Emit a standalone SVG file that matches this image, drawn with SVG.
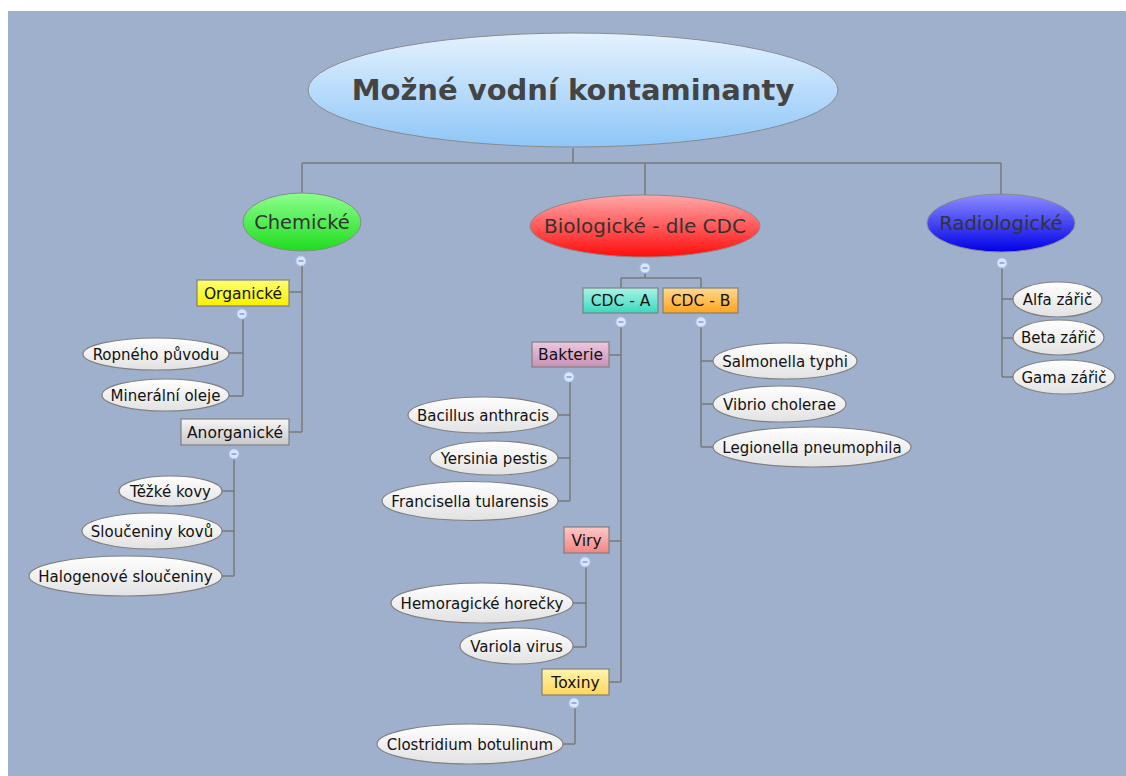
<svg xmlns="http://www.w3.org/2000/svg" width="1126" height="776" viewBox="0 0 1126 776">
<defs>
<linearGradient id="gRoot" x1="0" y1="0" x2="0" y2="1"><stop offset="0" stop-color="#e4f2ff"/><stop offset="1" stop-color="#8ec6f7"/></linearGradient>
<linearGradient id="gChem" x1="0" y1="0" x2="0" y2="1"><stop offset="0" stop-color="#8cff8c"/><stop offset="1" stop-color="#1fdc1f"/></linearGradient>
<linearGradient id="gBio" x1="0" y1="0" x2="0" y2="1"><stop offset="0" stop-color="#ffa8a8"/><stop offset="1" stop-color="#ff0c0c"/></linearGradient>
<linearGradient id="gRad" x1="0" y1="0" x2="0" y2="1"><stop offset="0" stop-color="#8c8cff"/><stop offset="1" stop-color="#0000e8"/></linearGradient>
<linearGradient id="gLeaf" x1="0" y1="0" x2="0" y2="1"><stop offset="0" stop-color="#ffffff"/><stop offset="1" stop-color="#e2e2e2"/></linearGradient>
<linearGradient id="gOrg" x1="0" y1="0" x2="0" y2="1"><stop offset="0" stop-color="#ffff70"/><stop offset="1" stop-color="#f8f000"/></linearGradient>
<linearGradient id="gAnorg" x1="0" y1="0" x2="0" y2="1"><stop offset="0" stop-color="#f6f6f6"/><stop offset="1" stop-color="#c8c8c8"/></linearGradient>
<linearGradient id="gCdcA" x1="0" y1="0" x2="0" y2="1"><stop offset="0" stop-color="#a8f4e6"/><stop offset="1" stop-color="#3ad8bf"/></linearGradient>
<linearGradient id="gCdcB" x1="0" y1="0" x2="0" y2="1"><stop offset="0" stop-color="#ffd890"/><stop offset="1" stop-color="#ffa41c"/></linearGradient>
<linearGradient id="gBak" x1="0" y1="0" x2="0" y2="1"><stop offset="0" stop-color="#ecc8de"/><stop offset="1" stop-color="#c890b8"/></linearGradient>
<linearGradient id="gViry" x1="0" y1="0" x2="0" y2="1"><stop offset="0" stop-color="#ffc8c8"/><stop offset="1" stop-color="#f28484"/></linearGradient>
<linearGradient id="gTox" x1="0" y1="0" x2="0" y2="1"><stop offset="0" stop-color="#fff4b0"/><stop offset="1" stop-color="#ffd65a"/></linearGradient>
</defs>
<style>
text{font-family:"DejaVu Sans","Verdana",sans-serif;text-anchor:middle;fill:#111;}
.leaf ellipse{fill:url(#gLeaf);stroke:#808080;stroke-width:1.2;}
.leaf text{font-size:15px;}
.box rect{stroke:#808080;stroke-width:1.2;}
.box text{font-size:15.5px;}
.main ellipse{stroke:#8a8a8a;stroke-width:1;}
.main text{font-size:19.5px;fill:#333;}
#connectors path{fill:none;stroke:#7a7a7a;stroke-width:1.5;}
.col circle{fill:#dbe6fa;stroke:#a9c3ee;stroke-width:1;}
.col path{stroke:#6d8cc8;stroke-width:1.2;}
</style>
<rect x="0" y="0" width="1126" height="776" fill="#ffffff"/>
<rect x="8" y="11" width="1118" height="765" fill="#9fb0cd"/>

<g id="connectors">
<path d="M573 148V163M302 163H1001M302 163V194M645 163V195M1001 163V194"/>
<path d="M302 266V432M289 292H302M289 432H302"/>
<path d="M243 319V396M229 353H243M229 396H243"/>
<path d="M234 459V576M222 491H234M222 531H234M222 576H234"/>
<path d="M645 273V278M621 278H701M621 278V288M701 278V288"/>
<path d="M621 327V682M609 355H621M609 541H621M609 682H621"/>
<path d="M570 382V501M558 415H570M558 458H570M558 501H570"/>
<path d="M586 567V647M573 603H586M573 647H586"/>
<path d="M575 708V744M563 744H575"/>
<path d="M701 327V447M713 361H701M713 404H701M713 447H701"/>
<path d="M1002 268V377M1002 299H1013M1002 338H1013M1002 377H1013"/>
</g>

<g id="root" class="main">
<ellipse cx="573" cy="90" rx="265" ry="57" fill="url(#gRoot)"/>
<text x="573" y="100" style="font-size:29px;font-weight:bold;fill:#444">Možné vodní kontaminanty</text>
</g>
<g id="chemicke" class="main">
<ellipse cx="302" cy="222" rx="59" ry="29" fill="url(#gChem)"/>
<text x="302" y="229">Chemické</text>
</g>
<g id="biologicke" class="main">
<ellipse cx="645" cy="226" rx="115" ry="31" fill="url(#gBio)"/>
<text x="645" y="233" style="font-size:20px">Biologické - dle CDC</text>
</g>
<g id="radiologicke" class="main">
<ellipse cx="1001" cy="223" rx="74" ry="29" fill="url(#gRad)"/>
<text x="1001" y="230">Radiologické</text>
</g>

<g id="organicke" class="box"><rect x="197" y="280" width="92" height="26" fill="url(#gOrg)"/><text x="243" y="298.5">Organické</text></g>
<g id="anorganicke" class="box"><rect x="181" y="419" width="108" height="26" fill="url(#gAnorg)"/><text x="235" y="437.5">Anorganické</text></g>
<g id="cdc-a" class="box"><rect x="583" y="288" width="75" height="25" fill="url(#gCdcA)"/><text x="620.5" y="306">CDC - A</text></g>
<g id="cdc-b" class="box"><rect x="663" y="288" width="75" height="25" fill="url(#gCdcB)"/><text x="700.5" y="306">CDC - B</text></g>
<g id="bakterie" class="box"><rect x="532" y="342" width="77" height="25" fill="url(#gBak)"/><text x="570.5" y="360">Bakterie</text></g>
<g id="viry" class="box"><rect x="564" y="527" width="45" height="26" fill="url(#gViry)"/><text x="586.5" y="545.5">Viry</text></g>
<g id="toxiny" class="box"><rect x="542" y="669" width="67" height="26" fill="url(#gTox)"/><text x="575.5" y="687.5">Toxiny</text></g>

<g id="ropneho" class="leaf"><ellipse cx="156" cy="354" rx="73" ry="16"/><text x="156" y="359.5">Ropného původu</text></g>
<g id="mineralni" class="leaf"><ellipse cx="165.5" cy="395" rx="63.5" ry="16"/><text x="165.5" y="400.5">Minerální oleje</text></g>
<g id="tezke" class="leaf"><ellipse cx="170.5" cy="491" rx="51.5" ry="15"/><text x="170.5" y="496.5">Těžké kovy</text></g>
<g id="slouceniny" class="leaf"><ellipse cx="152" cy="531" rx="70" ry="18"/><text x="152" y="536.5">Sloučeniny kovů</text></g>
<g id="halogenove" class="leaf"><ellipse cx="125.5" cy="576" rx="96.5" ry="20"/><text x="125.5" y="581.5">Halogenové sloučeniny</text></g>
<g id="bacillus" class="leaf"><ellipse cx="483" cy="415" rx="75" ry="18"/><text x="483" y="420.5">Bacillus anthracis</text></g>
<g id="yersinia" class="leaf"><ellipse cx="494" cy="458" rx="64" ry="17"/><text x="494" y="463.5">Yersinia pestis</text></g>
<g id="francisella" class="leaf"><ellipse cx="470" cy="501" rx="88" ry="19.5"/><text x="470" y="506.5">Francisella tularensis</text></g>
<g id="hemoragicke" class="leaf"><ellipse cx="482" cy="603" rx="91" ry="20"/><text x="482" y="608.5">Hemoragické horečky</text></g>
<g id="variola" class="leaf"><ellipse cx="516.5" cy="646" rx="56.5" ry="18"/><text x="516.5" y="651.5">Variola virus</text></g>
<g id="clostridium" class="leaf"><ellipse cx="470" cy="744" rx="93" ry="20"/><text x="470" y="749.5">Clostridium botulinum</text></g>
<g id="salmonella" class="leaf"><ellipse cx="785" cy="361" rx="72" ry="18"/><text x="785" y="366.5">Salmonella typhi</text></g>
<g id="vibrio" class="leaf"><ellipse cx="779.5" cy="404" rx="66.5" ry="18"/><text x="779.5" y="409.5">Vibrio cholerae</text></g>
<g id="legionella" class="leaf"><ellipse cx="812" cy="447" rx="99" ry="20"/><text x="812" y="452.5">Legionella pneumophila</text></g>
<g id="alfa" class="leaf"><ellipse cx="1057.5" cy="299.5" rx="44.5" ry="17.5"/><text x="1057.5" y="305">Alfa zářič</text></g>
<g id="beta" class="leaf"><ellipse cx="1058.5" cy="337.5" rx="45.5" ry="17.5"/><text x="1058.5" y="343">Beta zářič</text></g>
<g id="gama" class="leaf"><ellipse cx="1064" cy="377" rx="51" ry="17"/><text x="1064" y="382.5">Gama zářič</text></g>

<g id="collapse" class="col">
<circle cx="301" cy="261" r="5"/><path d="M298.5 261H303.5"/>
<circle cx="242" cy="314" r="5"/><path d="M239.5 314H244.5"/>
<circle cx="234" cy="454" r="5"/><path d="M231.5 454H236.5"/>
<circle cx="645" cy="268" r="5"/><path d="M642.5 268H647.5"/>
<circle cx="621" cy="322" r="5"/><path d="M618.5 322H623.5"/>
<circle cx="701" cy="322" r="5"/><path d="M698.5 322H703.5"/>
<circle cx="569" cy="377" r="5"/><path d="M566.5 377H571.5"/>
<circle cx="585" cy="562" r="5"/><path d="M582.5 562H587.5"/>
<circle cx="574" cy="703" r="5"/><path d="M571.5 703H576.5"/>
<circle cx="1002" cy="263" r="5"/><path d="M999.5 263H1004.5"/>
</g>
</svg>
